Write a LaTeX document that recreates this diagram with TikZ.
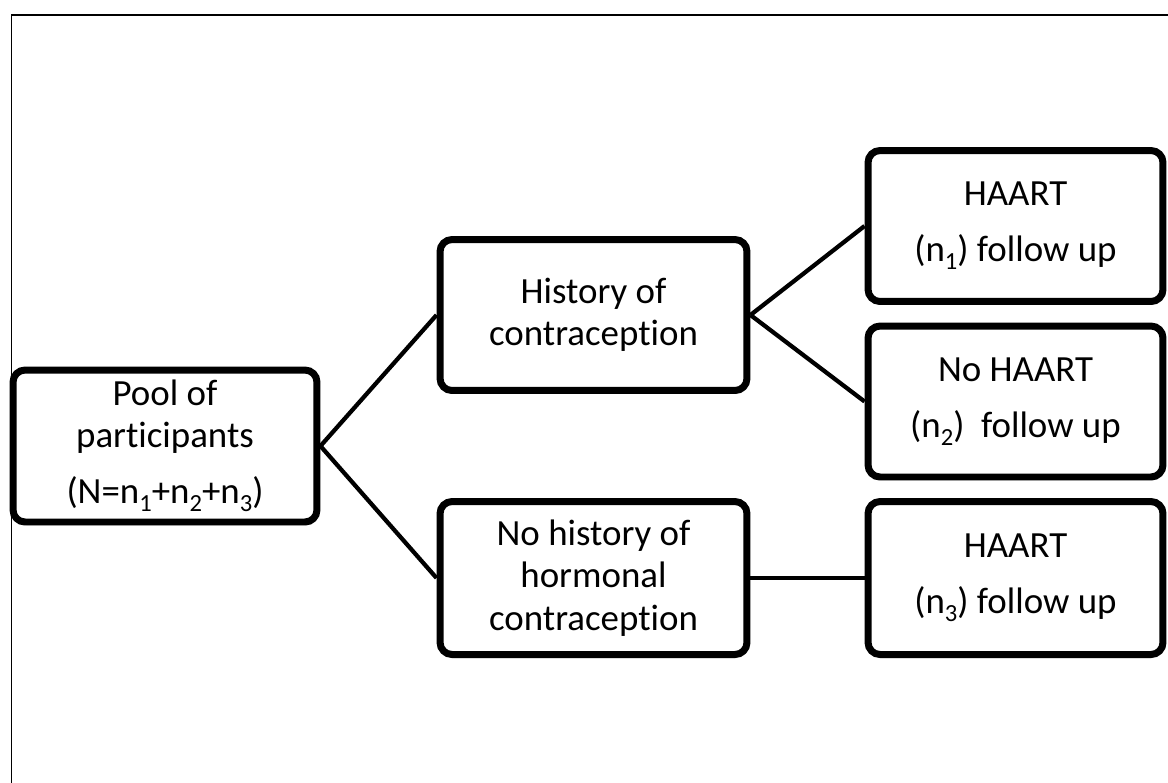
\documentclass[tikz,border=0pt]{standalone}
\usepackage{fontspec}
\setmainfont{Carlito}[Ligatures=NoCommon]
\usetikzlibrary{positioning,shadows}

% lowered index, as in n_1
\newcommand{\idx}[1]{\raisebox{-0.45ex}{\fontsize{14}{14}\selectfont #1}}

\begin{document}
\begin{tikzpicture}[x=0.02cm,y=-0.02cm,
	box/.style={draw,fill=white,line width=0.14cm,rounded corners=0.24cm,
		align=center,inner sep=0pt,minimum height=3.02cm,
		font=\fontsize{21}{24}\selectfont,
		drop shadow={shadow xshift=0.03cm,shadow yshift=-0.07cm,opacity=0.25}},
	link/.style={line width=0.085cm}]

\useasboundingbox (0,0) rectangle (1168,782);
\clip (0,0) rectangle (1168,782);

% frame
\draw [line width=0.04cm] (11.5,15) rectangle (1200,820);

%%%%%%%%%%%%%%%%%%%%%%%%%%%%%%%%%%%%%%%%%%%%%%%%%%%%%%%%%%%%%%%%

\node [box,minimum width=6.08cm,minimum height=3.04cm] at (165,446) (pool)
	{Pool of\\participants\\[8pt](N=n\idx{1}+n\idx{2}+n\idx{3})};

\node [box,minimum width=6.14cm] at (593.5,315) (hist) {History of\\contraception};
\node [box,minimum width=6.14cm,minimum height=3.06cm] at (593.5,578) (nohist)
	{No history of\\hormonal\\contraception};

\node [box,minimum width=5.9cm] at (1015.5,226) (haart1)
	{HAART\\[8pt](n\idx{1}) follow up};
\node [box,minimum width=5.9cm] at (1015.5,401.5) (nohaart)
	{No HAART\\[8pt](n\idx{2}) \ follow up};
\node [box,minimum width=5.9cm,minimum height=3.06cm] at (1015.5,578) (haart3)
	{HAART\\[8pt](n\idx{3}) follow up};

%%%%%%%%%%%%%%%%%%%%%%%%%%%%%%%%%%%%%%%%%%%%%%%%%%%%%%%%%%%%%%%%

\draw [link] (pool.east) -- (hist.west);
\draw [link] (pool.east) -- (nohist.west);
\draw [link] (hist.east) -- (haart1.west);
\draw [link] (hist.east) -- (nohaart.west);
\draw [link] (nohist.east) -- (haart3.west);

\end{tikzpicture}
\end{document}
